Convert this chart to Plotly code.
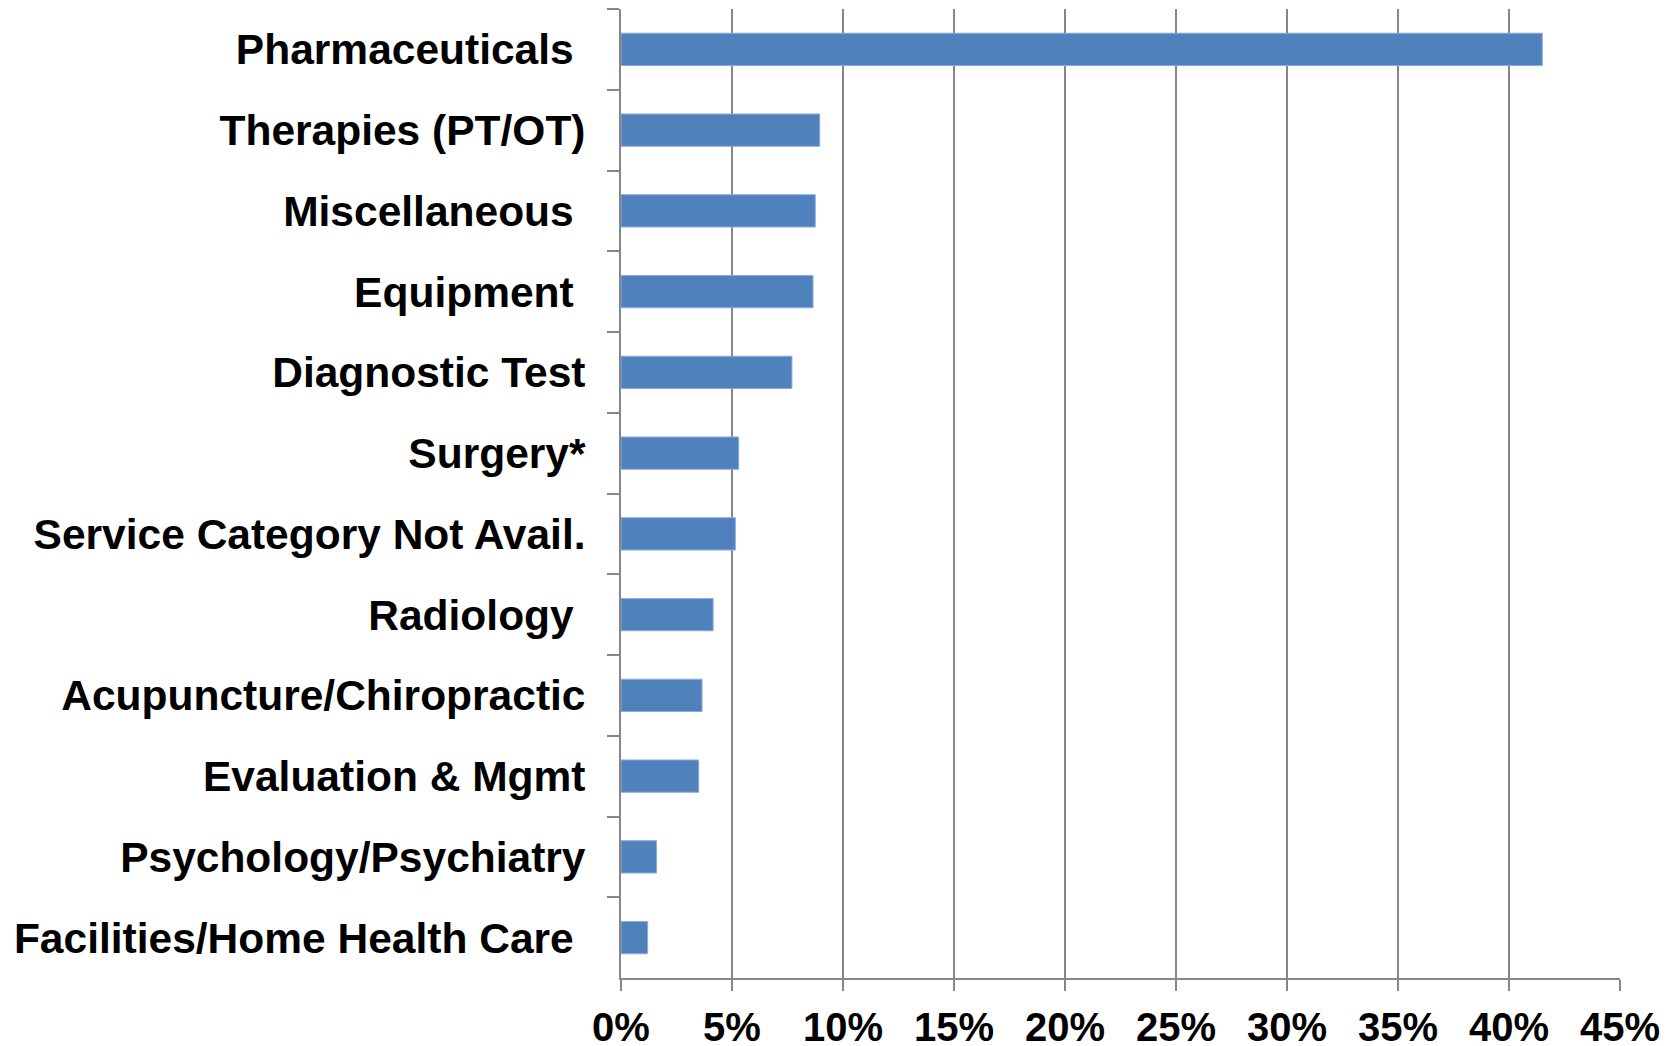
import plotly.graph_objects as go

categories = [
    "Pharmaceuticals\u00a0",
    "Therapies (PT/OT)",
    "Miscellaneous\u00a0",
    "Equipment\u00a0",
    "Diagnostic Test",
    "Surgery*",
    "Service Category Not Avail.",
    "Radiology\u00a0",
    "Acupuncture/Chiropractic",
    "Evaluation & Mgmt",
    "Psychology/Psychiatry",
    "Facilities/Home Health Care\u00a0",
]
values = [41.5, 8.95, 8.75, 8.65, 7.7, 5.3, 5.15, 4.15, 3.65, 3.5, 1.6, 1.2]
x_tickvals = [0, 5, 10, 15, 20, 25, 30, 35, 40, 45]
x_ticktext = ["0%", "5%", "10%", "15%", "20%", "25%", "30%", "35%", "40%", "45%"]

fig = go.Figure(
    go.Bar(
        x=values,
        y=categories,
        orientation="h",
        marker=dict(color="#4F81BD", line=dict(color="#8EAADB", width=1)),
    )
)

fig.update_layout(
    width=1676,
    height=1046,
    margin=dict(l=613, r=64, t=1, b=76, autoexpand=False),
    paper_bgcolor="white",
    plot_bgcolor="white",
    bargap=0.6,
    showlegend=False,
    font=dict(family="Liberation Sans, Arial, sans-serif", color="black"),
)

fig.update_xaxes(
    automargin=False,
    range=[0, 45],
    tickvals=x_tickvals,
    ticktext=x_ticktext,
    showgrid=True,
    gridcolor="#868686",
    gridwidth=1.5,
    showline=True,
    linecolor="#868686",
    linewidth=2,
    ticks="outside",
    ticklen=11,
    tickwidth=1.5,
    tickcolor="#868686",
    tickfont=dict(size=40, weight="bold", color="black"),
    ticklabelstandoff=2,
    zeroline=False,
)

fig.update_yaxes(
    automargin=False,
    categoryorder="array",
    categoryarray=categories,
    autorange="reversed",
    showgrid=False,
    showline=True,
    linecolor="#868686",
    linewidth=2,
    ticks="outside",
    tickson="boundaries",
    ticklen=12,
    tickwidth=1.5,
    tickcolor="#868686",
    tickfont=dict(size=42.5, weight="bold", color="black"),
    ticklabelstandoff=25,
)

fig.write_html("out.html")
